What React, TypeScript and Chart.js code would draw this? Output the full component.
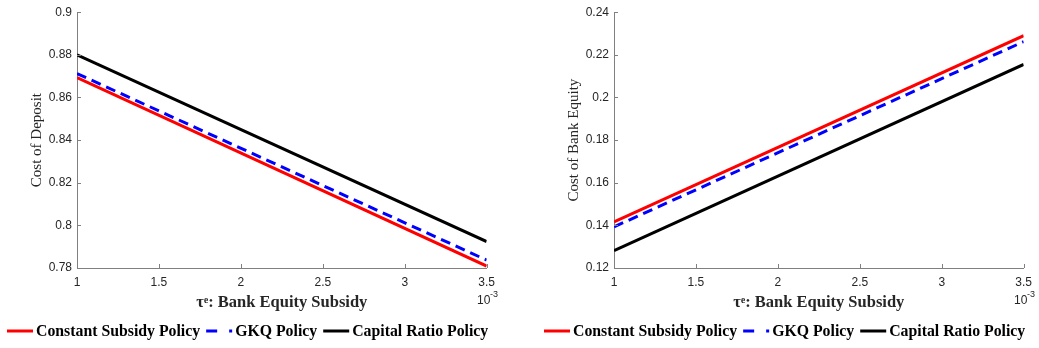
import React, { useEffect, useRef } from "react";
import { Chart, registerables } from "chart.js";

Chart.register(...registerables);

const xValues = [1, 3.5];
const xTicks = [1, 1.5, 2, 2.5, 3, 3.5];

const depositConstant = [0.8693, 0.7809];
const depositGKQ = [0.8712, 0.7837];
const depositCapital = [0.88, 0.7924];

const equityConstant = [0.1416, 0.229];
const equityGKQ = [0.1393, 0.2262];
const equityCapital = [0.1281, 0.2155];

const seriesNames = ["Constant Subsidy Policy", "GKQ Policy", "Capital Ratio Policy"];
const seriesColors = ["#ff0000", "#0000ff", "#000000"];

const xTitle = "τᵉ: Bank Equity Subsidy";
const yTitleLeft = "Cost of Deposit";
const yTitleRight = "Cost of Bank Equity";

const AXIS = "#808080";
const TICKTEXT = "#262626";

function pts(vals: number[]) {
  return xValues.map((x, i) => ({ x, y: vals[i] }));
}

function makeConfig(series: number[][], yMin: number, yMax: number, yTitle: string): any {
  const decor = {
    id: "decor",
    afterDraw(chart: any) {
      const ctx = chart.ctx;
      const a = chart.chartArea;
      const xs = chart.scales.x;
      const ys = chart.scales.y;
      ctx.save();
      // inward ticks
      ctx.strokeStyle = AXIS;
      ctx.lineWidth = 1;
      xs.ticks.forEach((t: any) => {
        const px = Math.round(xs.getPixelForValue(t.value)) + 0.5;
        ctx.beginPath();
        ctx.moveTo(px, a.bottom);
        ctx.lineTo(px, a.bottom - 4);
        ctx.stroke();
      });
      ys.ticks.forEach((t: any) => {
        const py = Math.round(ys.getPixelForValue(t.value)) + 0.5;
        ctx.beginPath();
        ctx.moveTo(a.left, py);
        ctx.lineTo(a.left + 4, py);
        ctx.stroke();
      });
      // y title
      ctx.fillStyle = "#262626";
      ctx.font = "15px 'Liberation Serif'";
      ctx.textAlign = "center";
      ctx.textBaseline = "middle";
      ctx.save();
      ctx.translate(37, (a.top + a.bottom) / 2);
      ctx.rotate(-Math.PI / 2);
      ctx.fillText(yTitle, 0, 0);
      ctx.restore();
      // x title
      ctx.font = "bold 16.5px 'Liberation Serif'";
      ctx.fillText(xTitle, (a.left + a.right) / 2, 303);
      // exponent
      ctx.font = "12px 'Liberation Sans'";
      ctx.textAlign = "left";
      ctx.fillStyle = TICKTEXT;
      ctx.fillText("10", 477, 301);
      ctx.font = "9px 'Liberation Sans'";
      ctx.fillText("-3", 490, 295);
      // legend
      ctx.font = "bold 15.8px 'Liberation Serif'";
      ctx.textBaseline = "middle";
      let x = 7;
      const ly = 331;
      for (let i = 0; i < seriesNames.length; i++) {
        ctx.strokeStyle = seriesColors[i];
        ctx.lineWidth = 3;
        ctx.setLineDash(i === 1 ? [11, 12] : []);
        ctx.beginPath();
        ctx.moveTo(x, ly);
        ctx.lineTo(x + 26, ly);
        ctx.stroke();
        ctx.setLineDash([]);
        x += 29;
        ctx.fillStyle = "#000";
        ctx.fillText(seriesNames[i], x, ly + 1);
        x += ctx.measureText(seriesNames[i]).width + 6;
      }
      ctx.restore();
    },
  };

  return {
    type: "line",
    data: {
      datasets: series.map((s, i) => ({
        label: seriesNames[i],
        data: pts(s),
        borderColor: seriesColors[i],
        backgroundColor: seriesColors[i],
        borderWidth: 3,
        borderDash: i === 1 ? [10, 6] : [],
        pointRadius: 0,
        fill: false,
        tension: 0,
        order: 3 - i,
      })),
    },
    options: {
      responsive: false,
      animation: false,
      layout: { padding: { left: 0, top: 8, right: 9, bottom: 0 } },
      plugins: { legend: { display: false }, tooltip: { enabled: false } },
      scales: {
        x: {
          type: "linear",
          min: 1,
          max: 3.5,
          afterFit: (s: any) => {
            s.height = 80;
          },
          afterBuildTicks: (s: any) => {
            s.ticks = xTicks.map((v) => ({ value: v }));
          },
          grid: { display: true, drawOnChartArea: false, drawTicks: false },
          border: { display: true, color: AXIS, width: 1 },
          ticks: {
            padding: 7,
            color: TICKTEXT,
            font: { family: "'Liberation Sans'", size: 12 },
            maxRotation: 0,
            autoSkip: false,
            callback: (v: any) => String(Number(Number(v).toFixed(2))),
          },
        },
        y: {
          type: "linear",
          min: yMin,
          max: yMax,
          afterFit: (s: any) => {
            s.width = 77;
          },
          grid: { display: true, drawOnChartArea: false, drawTicks: false },
          border: { display: true, color: AXIS, width: 1 },
          ticks: {
            stepSize: 0.02,
            padding: 5,
            color: TICKTEXT,
            font: { family: "'Liberation Sans'", size: 12 },
            callback: (v: any) => String(Number(Number(v).toFixed(2))),
          },
        },
      },
    },
    plugins: [decor],
  };
}

function Panel(props: { series: number[][]; yMin: number; yMax: number; yTitle: string; left: number }) {
  const ref = useRef<HTMLCanvasElement>(null);
  useEffect(() => {
    const c = new Chart(ref.current as HTMLCanvasElement, makeConfig(props.series, props.yMin, props.yMax, props.yTitle));
    return () => c.destroy();
  }, []);
  return (
    <canvas
      ref={ref}
      width={502}
      height={348}
      style={{ position: "absolute", left: props.left, top: 0, width: 502, height: 348 }}
    />
  );
}

export default function App() {
  return (
    <div style={{ position: "absolute", left: 0, top: 0, width: 1039, height: 348, background: "#fff" }}>
      <Panel series={[depositConstant, depositGKQ, depositCapital]} yMin={0.78} yMax={0.9} yTitle={yTitleLeft} left={0} />
      <Panel series={[equityConstant, equityGKQ, equityCapital]} yMin={0.12} yMax={0.24} yTitle={yTitleRight} left={537} />
    </div>
  );
}
